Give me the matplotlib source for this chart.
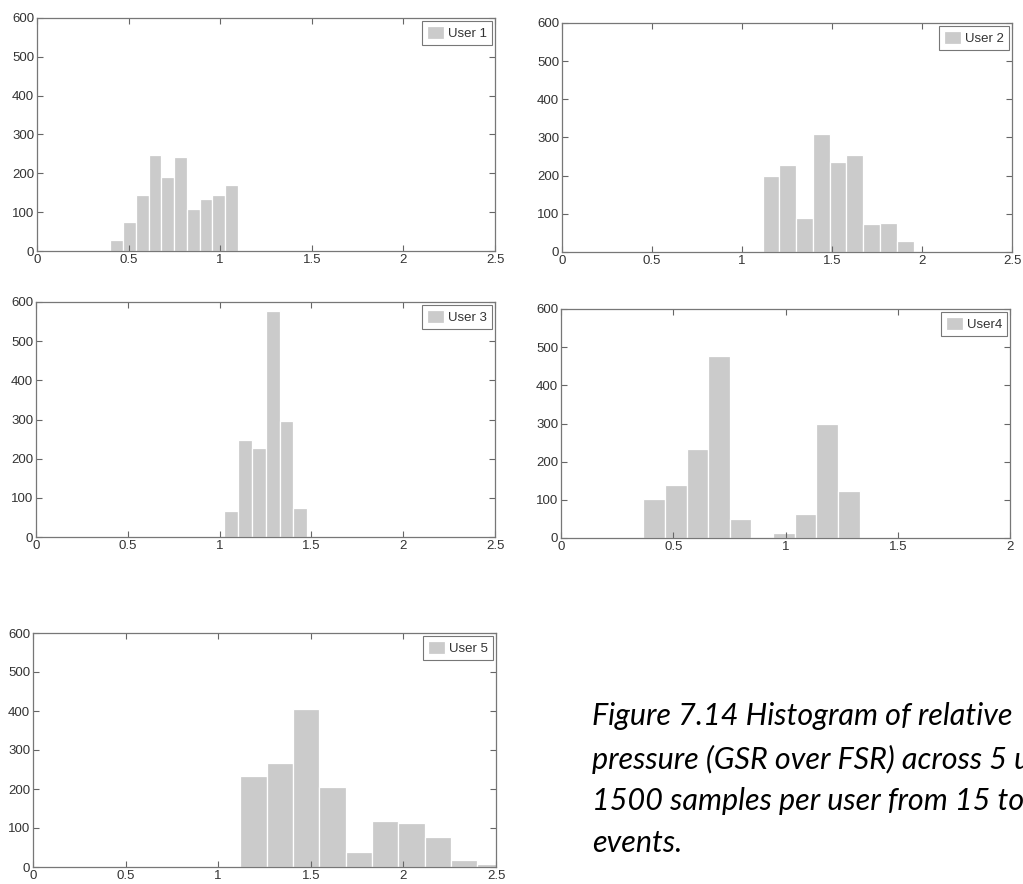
import numpy as np
import matplotlib
matplotlib.use("Agg")
import matplotlib.pyplot as plt

# === DATA ===
users = ["User 1", "User 2", "User 3", "User4", "User 5"]

# bin range (first edge, last edge) per user, equal-width bins
u1_range = (0.400, 1.097)
u1_counts = [29, 75, 145, 247, 190, 242, 107, 133, 145, 170]

u2_range = (1.115, 2.046)
u2_counts = [199, 229, 88, 309, 236, 254, 73, 76, 30, 3]

u3_range = (0.949, 1.478)
u3_counts = [2, 67, 248, 226, 578, 297, 73]

u4_range = (0.367, 1.330)
u4_counts = [103, 138, 233, 477, 51, 3, 13, 62, 298, 123]

u5_range = (1.120, 2.540)
u5_counts = [234, 266, 405, 206, 39, 119, 113, 78, 19, 8]

x_max = [2.5, 2.5, 2.5, 2.0, 2.5]
y_ticks = [0, 100, 200, 300, 400, 500, 600]

caption_lines = ["Figure 7.14 Histogram of relative",
                 "pressure (GSR over FSR) across 5 users,",
                 "1500 samples per user from 15 touch",
                 "events."]

# === LAYOUT (pixel boxes: left, top, right, bottom) ===
W, H = 1023, 884
boxes = [(37, 18, 495, 251),
         (562, 23, 1012, 252),
         (36, 302, 495, 537),
         (561, 309, 1010, 538),
         (33, 633, 496, 867)]

def to_fig(box):
    l, t, r, b = box
    return [l / W, 1 - b / H, (r - l) / W, (b - t) / H]

plt.rcParams['font.family'] = ['Liberation Sans', 'DejaVu Sans']
fig = plt.figure(figsize=(W / 100, H / 100), dpi=100)

ranges = [u1_range, u2_range, u3_range, u4_range, u5_range]
counts = [u1_counts, u2_counts, u3_counts, u4_counts, u5_counts]

for i in range(5):
    ax = fig.add_axes(to_fig(boxes[i]))
    c = np.array(counts[i])
    edges = np.linspace(ranges[i][0], ranges[i][1], len(c) + 1)
    ax.bar(edges[:-1], c, width=np.diff(edges), align='edge',
           color='#cbcbcb', edgecolor='white', linewidth=0.9, label=users[i])
    ax.set_xlim(0, x_max[i])
    ax.set_ylim(0, 600)
    ax.set_yticks(y_ticks)
    xt = np.arange(0, x_max[i] + 0.01, 0.5)
    ax.set_xticks(xt)
    ax.set_xticklabels([f"{v:g}" for v in xt])
    ax.tick_params(direction='in', top=True, right=True, length=4, width=0.8,
                   colors='#666666', labelcolor='#333333', labelsize=9.5, pad=2)
    for s in ax.spines.values():
        s.set_color('#777777')
        s.set_linewidth(0.9)
    leg = ax.legend(loc='upper right', fontsize=9.5, frameon=True, fancybox=False,
                    handlelength=1.3, handleheight=1.2, handletextpad=0.3,
                    borderpad=0.35, borderaxespad=0.25)
    leg.get_frame().set_edgecolor('#555555')
    leg.get_frame().set_linewidth(0.8)
    for t in leg.get_texts():
        t.set_color('#333333')

# caption (runs off the right edge like the original page crop)
fig.text(592 / W, 1 - 702 / H, "\n".join(caption_lines), ha='left', va='top',
         fontsize=22, style='italic', family='Lato', linespacing=1.6,
         color='black')

fig.savefig("out.png", dpi=100)
